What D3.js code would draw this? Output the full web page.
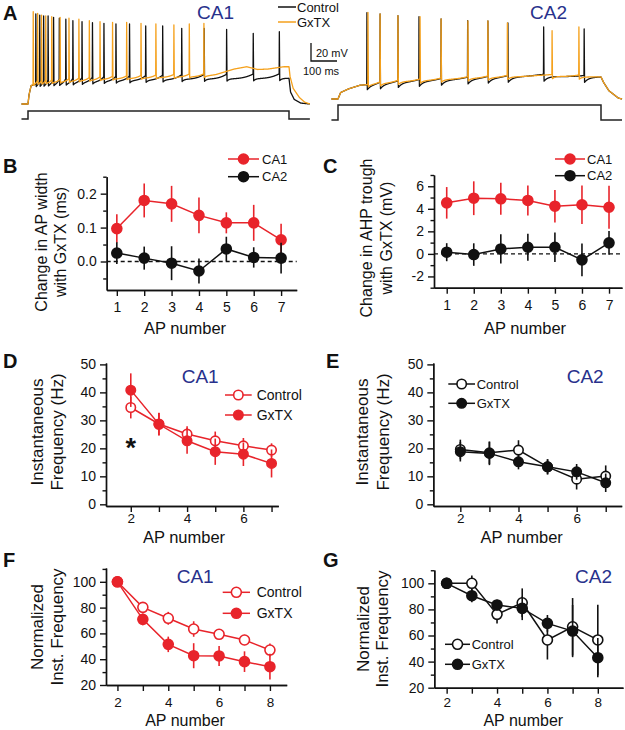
<!DOCTYPE html>
<html>
<head>
<meta charset="utf-8">
<script src="https://cdn.jsdelivr.net/npm/d3@7"></script>
<style>
  body { margin: 0; background: #fff; }
  svg { display: block; }
</style>
</head>
<body>
<div id="fig"></div>
<script>
// ---------- data ----------

// A: example traces (spike times in ms from step onset, spike peaks in mV)
var ca1CtlSpikes = [30, 45, 60, 77, 98, 120, 145, 172, 207, 247, 291, 337, 389, 451, 516, 589, 675, 761, 863, 963];
var ca1CtlPeaks  = [32.8, 31.7, 30.7, 30.7, 29.2, 28.2, 27.1, 25.5, 24.5, 23.4, 22.7, 22, 22, 19.8, 19.8, 17.3, 17.3, 16.2, 11.8, 13.6];
var ca1GxSpikes  = [20, 37, 52, 68, 91, 123, 157, 195, 235, 276, 324, 378, 433, 490, 559, 618, 674];
var ca1GxPeaks   = [35.3, 33.6, 31.7, 30.7, 29.9, 29.2, 28.2, 27.1, 25.5, 24.5, 23.8, 23.8, 22.7, 22, 20.9, 22, 22.7];
var ca2CtlSpikes = [110, 160, 228, 308, 392, 493, 570, 646, 782, 936];
var ca2CtlPeaks  = [28.8, 27.4, 25.5, 24.5, 22, 20.1, 19.8, 17.6, 13.3, 11.1];
var ca2GxSpikes  = [114, 160, 228, 312, 392, 494, 570, 644, 814, 916];
var ca2GxPeaks   = [29, 27.4, 25.5, 24.5, 22, 20, 19.8, 17.6, 9.2, 13.3];

// subthreshold level between spikes (time ms, mV)
var ca1CtlBaseT = [-25, 0, 4, 12, 30, 300, 600, 800, 1000, 1006, 1020, 1045, 1080];
var ca1CtlBaseV = [-65, -65, -55, -45, -43.5, -40, -38, -37.5, -37, -52, -60, -64, -65];
var ca1GxBaseT  = [-25, 0, 4, 12, 30, 300, 600, 674, 720, 790, 838, 880, 920, 980, 1000, 1004, 1016, 1040, 1060, 1080];
var ca1GxBaseV  = [-65, -65, -55, -45, -42.5, -38, -35.5, -35, -33, -27, -24.5, -27.5, -27, -24.5, -24.5, -35, -48, -58, -63, -65];
var ca2CtlBaseT = [-25, 0, 10, 40, 84, 255, 508, 760, 940, 1000, 1010, 1030, 1066, 1080];
var ca2CtlBaseV = [-65, -65, -58, -54, -50, -46.5, -43, -40, -41.5, -41, -47, -56, -64, -65];
var ca2GxBaseT  = [-25, 0, 10, 40, 84, 255, 508, 760, 940, 1000, 1010, 1030, 1066, 1080];
var ca2GxBaseV  = [-65, -65, -58, -54, -50, -46, -42.5, -40, -41, -41, -47, -56, -64, -65];

// current step (off / on)
var stepT  = [-25, 0, 0, 1000, 1000, 1080];
var stepOn = [0, 0, 1, 1, 0, 0];

// B: change in AP width (ms)
var apNum = [1, 2, 3, 4, 5, 6, 7];
var widthCA1    = [0.097, 0.180, 0.170, 0.136, 0.114, 0.114, 0.064];
var widthCA1Err = [0.042, 0.050, 0.053, 0.053, 0.031, 0.053, 0.047];
var widthCA2    = [0.025, 0.010, -0.005, -0.028, 0.037, 0.012, 0.010];
var widthCA2Err = [0.032, 0.034, 0.050, 0.037, 0.036, 0.030, 0.045];

// C: change in AHP trough (mV)
var ahpCA1    = [4.53, 4.94, 4.89, 4.74, 4.23, 4.36, 4.14];
var ahpCA1Err = [1.4, 1.5, 1.42, 1.33, 1.45, 1.7, 1.9];
var ahpCA2    = [0.15, -0.06, 0.44, 0.59, 0.59, -0.53, 0.98];
var ahpCA2Err = [0.8, 1.0, 1.3, 1.2, 1.3, 1.45, 1.05];

// D, E: instantaneous frequency (Hz)
var freqAP = [2, 3, 4, 5, 6, 7];
var freqCA1Ctl    = [34.6, 28.7, 25.1, 22.7, 20.9, 19.4];
var freqCA1CtlErr = [3.9, 4.0, 2.8, 3.3, 2.8, 2.4];
var freqCA1Gx     = [40.8, 28.6, 22.7, 18.8, 17.9, 14.6];
var freqCA1GxErr  = [6.0, 4.0, 4.6, 4.7, 4.2, 5.0];
var freqCA2Ctl    = [19.6, 18.4, 19.4, 13.4, 9.0, 10.1];
var freqCA2CtlErr = [3.5, 4.0, 3.5, 2.7, 3.7, 3.8];
var freqCA2Gx     = [18.8, 18.2, 15.2, 13.4, 11.6, 7.7];
var freqCA2GxErr  = [3.5, 4.2, 2.7, 2.7, 2.8, 3.3];

// F, G: normalized instantaneous frequency (%)
var normAP = [2, 3, 4, 5, 6, 7, 8];
var normCA1Ctl    = [100, 80.2, 71.7, 63.4, 59.3, 54.9, 47.1];
var normCA1CtlErr = [0, 3, 5, 6, 3, 4, 5];
var normCA1Gx     = [100, 70.9, 51.5, 42.7, 42.5, 38.1, 34.2];
var normCA1GxErr  = [0, 4.5, 6, 9.7, 7.7, 8, 10];
var normCA2Ctl    = [100, 100, 76.2, 85.1, 56.6, 66.7, 56.6];
var normCA2CtlErr = [0, 6, 7, 11, 15, 22, 27];
var normCA2Gx     = [100, 90.5, 83.4, 80.8, 69.3, 63.4, 43];
var normCA2GxErr  = [0, 5, 4, 9, 6.4, 20, 15];

// tick values
var bTicks = [0, 0.1, 0.2], bMinor = [-0.05, 0.05, 0.15, 0.25];
var cTicks = [-2, 0, 2, 4, 6], cMinor = [-3, -1, 1, 3, 5, 7];
var freqTicks = [0, 10, 20, 30, 40, 50], freqMinor = [5, 15, 25, 35, 45];
var normTicks = [20, 40, 60, 80, 100], normMinor = [30, 50, 70, 90, 110];

// ---------- drawing ----------
var W = 625, H = 730;
var FONT = "'Liberation Sans', Arial, Helvetica, sans-serif";
var RED = "#e8242b", ORANGE = "#f5a11c", NAVY = "#28318c", INK = "#111";

var svg = d3.select("#fig").append("svg").attr("width", W).attr("height", H);
svg.append("rect").attr("width", W).attr("height", H).attr("fill", "#fff");

function txt(x, y, s, size, opts) {
  opts = opts || {};
  return svg.append("text")
    .attr("x", x).attr("y", y)
    .attr("font-family", FONT)
    .attr("font-size", size)
    .attr("font-weight", opts.bold ? "bold" : "normal")
    .attr("text-anchor", opts.anchor || "start")
    .attr("fill", opts.color || INK)
    .text(s);
}

// --- panel A traces ---
function buildTrace(spikes, peaks, baseT, baseV, ahp, tau, ramp) {
  var base = d3.scaleLinear().domain(baseT).range(baseV);
  var pts = [];
  for (var k = 0; k <= 4420; k++) {
    var t = -25 + k * 0.25;
    var i = d3.bisectRight(spikes, t) - 1;
    var v = base(t);
    if (i >= 0) {
      var dt = t - spikes[i];
      v -= ahp * Math.exp(-dt / tau);
      if (i + 1 < spikes.length) v += ramp * Math.pow(dt / (spikes[i + 1] - spikes[i]), 3);
      if (dt < 1.5) v = peaks[i] + (v - peaks[i]) * dt / 1.5;
    }
    var j = i + 1;
    if (j < spikes.length && spikes[j] - t < 0.75) v += (peaks[j] - v) * (1 - (spikes[j] - t) / 0.75);
    pts.push([t, v]);
  }
  return pts;
}

function drawTrace(pts, tx, vy, color) {
  svg.append("path")
    .attr("d", d3.line().x(d => tx(d[0])).y(d => vy(d[1]))(pts))
    .attr("fill", "none").attr("stroke", color)
    .attr("stroke-width", 1.3).attr("stroke-linejoin", "round");
}

function drawStep(tx, sy) {
  var pts = stepT.map((t, i) => [t, stepOn[i]]);
  svg.append("path")
    .attr("d", d3.line().x(d => tx(d[0])).y(d => sy(d[1]))(pts))
    .attr("fill", "none").attr("stroke", "#222").attr("stroke-width", 1.5);
}

var tA1 = d3.scaleLinear().domain([0, 1000]).range([28, 289]);
var vA1 = d3.scaleLinear().domain([-65, 35]).range([104, 12]);
var sA1 = d3.scaleLinear().domain([0, 1]).range([119, 111]);
var tA2 = d3.scaleLinear().domain([0, 1000]).range([338, 601]);
var vA2 = d3.scaleLinear().domain([-65, 35]).range([99, 7]);
var sA2 = d3.scaleLinear().domain([0, 1]).range([120, 105]);

drawTrace(buildTrace(ca1CtlSpikes, ca1CtlPeaks, ca1CtlBaseT, ca1CtlBaseV, 3, 8, 5), tA1, vA1, INK);
drawTrace(buildTrace(ca1GxSpikes, ca1GxPeaks, ca1GxBaseT, ca1GxBaseV, 1.5, 6, 3), tA1, vA1, ORANGE);
drawStep(tA1, sA1);
drawTrace(buildTrace(ca2CtlSpikes, ca2CtlPeaks, ca2CtlBaseT, ca2CtlBaseV, 6, 15, 2), tA2, vA2, INK);
drawTrace(buildTrace(ca2GxSpikes, ca2GxPeaks, ca2GxBaseT, ca2GxBaseV, 3, 10, 2), tA2, vA2, ORANGE);
drawStep(tA2, sA2);

txt(3, 20, "A", 20, {bold: true});
txt(197, 19, "CA1", 19, {color: NAVY});
txt(530, 19, "CA2", 19, {color: NAVY});

// legend A
svg.append("line").attr("x1", 278).attr("x2", 296).attr("y1", 7).attr("y2", 7).attr("stroke", INK).attr("stroke-width", 1.5);
svg.append("line").attr("x1", 278).attr("x2", 296).attr("y1", 22).attr("y2", 22).attr("stroke", ORANGE).attr("stroke-width", 1.5);
txt(297, 11.5, "Control", 13);
txt(297, 26.5, "GxTX", 13);

// scale bar
svg.append("path").attr("d", "M311,43V61H337").attr("fill", "none").attr("stroke", INK).attr("stroke-width", 1.3);
txt(316, 57, "20 mV", 11);
txt(303, 75, "100 ms", 11);

// --- generic XY panel ---
function styleAxis(sel, size) {
  sel.selectAll("path, line").attr("stroke", INK).attr("stroke-width", 1.4);
  sel.attr("font-family", FONT).attr("font-size", size);
  sel.selectAll("text").attr("fill", INK);
}

function makePanel(p) {
  var x = d3.scaleLinear().domain(p.xDom).range(p.xR);
  var y = d3.scaleLinear().domain(p.yDom).range(p.yR);
  var g = svg.append("g");

  g.append("g").attr("transform", "translate(" + p.xR[0] + ",0)")
    .call(d3.axisLeft(y).tickValues(p.yMinor).tickSize(3.5).tickFormat("").tickSizeOuter(0))
    .call(styleAxis, 14);
  g.append("g").attr("transform", "translate(" + p.xR[0] + ",0)")
    .call(d3.axisLeft(y).tickValues(p.yMajor).tickSize(6).tickPadding(4).tickFormat(p.yFmt).tickSizeOuter(0))
    .call(styleAxis, 14);

  g.append("g").attr("transform", "translate(0," + p.yR[0] + ")")
    .call(d3.axisBottom(x).tickValues(p.xMinor).tickSize(6).tickFormat("").tickSizeOuter(0))
    .call(styleAxis, 14);
  g.append("g").attr("transform", "translate(0," + p.yR[0] + ")")
    .call(d3.axisBottom(x).tickValues(p.xMajor).tickSize(6).tickPadding(p.xPad).tickFormat(d3.format("d")).tickSizeOuter(0))
    .call(styleAxis, p.xTickFont || 14);

  // axis titles
  txt(p.xLabel[0], p.xLabel[1], "AP number", p.xFont || 17, {anchor: "middle"});
  p.yLines.forEach(function (ln) {
    svg.append("text")
      .attr("transform", "translate(" + ln[0] + "," + p.yMid + ") rotate(-90)")
      .attr("text-anchor", "middle").attr("dy", "0.35em")
      .attr("font-family", FONT).attr("font-size", p.yFont || 17).attr("fill", INK)
      .text(ln[1]);
  });
  return {x: x, y: y, g: g};
}

function series(pn, xs, ys, es, color, open, r) {
  r = r || 5;
  pn.g.append("g").selectAll("line").data(xs).join("line")
    .attr("x1", d => pn.x(d)).attr("x2", d => pn.x(d))
    .attr("y1", (d, i) => pn.y(ys[i] - es[i])).attr("y2", (d, i) => pn.y(ys[i] + es[i]))
    .attr("stroke", color).attr("stroke-width", 1.6);
  pn.g.append("path")
    .attr("d", d3.line().x(d => pn.x(d[0])).y(d => pn.y(d[1]))(xs.map((d, i) => [d, ys[i]])))
    .attr("fill", "none").attr("stroke", color).attr("stroke-width", 1.5);
  pn.g.append("g").selectAll("circle").data(xs).join("circle")
    .attr("cx", d => pn.x(d)).attr("cy", (d, i) => pn.y(ys[i])).attr("r", r)
    .attr("fill", open ? "#fff" : color).attr("stroke", color).attr("stroke-width", 1.6);
}

function legendRow(x1, x2, y, label, tx, color, open, size, r) {
  svg.append("line").attr("x1", x1).attr("x2", x2).attr("y1", y).attr("y2", y)
    .attr("stroke", color).attr("stroke-width", 1.5);
  svg.append("circle").attr("cx", (x1 + x2) / 2).attr("cy", y).attr("r", r || 5)
    .attr("fill", open ? "#fff" : color).attr("stroke", color).attr("stroke-width", 1.6);
  txt(tx, y + 4.6, label, size || 13);
}

function zeroLine(pn) {
  pn.g.append("line")
    .attr("x1", pn.x.range()[0]).attr("x2", pn.x.range()[1])
    .attr("y1", pn.y(0)).attr("y2", pn.y(0))
    .attr("stroke", INK).attr("stroke-width", 1.3).attr("stroke-dasharray", "4,3");
}

// --- B ---
var pB = makePanel({
  xR: [106.7, 296.7], yR: [290, 176.7], xDom: [0.63, 7.57], yDom: [-0.084, 0.25],
  yMajor: bTicks, yMinor: bMinor, yFmt: d3.format(".1f"),
  xMajor: apNum, xMinor: [], xPad: 6,
  xLabel: [185, 334], xFont: 16.5, yMid: 242, yFont: 16,
  yLines: [[41.7, "Change in AP width"], [60, "with GxTX (ms)"]]
});
zeroLine(pB);
series(pB, apNum, widthCA1, widthCA1Err, RED, false);
series(pB, apNum, widthCA2, widthCA2Err, INK, false);
txt(3, 173, "B", 20, {bold: true});
legendRow(228, 259, 159, "CA1", 262, RED, false);
legendRow(228, 259, 176.7, "CA2", 262, INK, false);

// --- C ---
var pC = makePanel({
  xR: [434, 622], yR: [287.7, 175], xDom: [0.53, 7.48], yDom: [-3, 7],
  yMajor: cTicks, yMinor: cMinor, yFmt: d => String(d),
  xMajor: apNum, xMinor: [], xPad: 6,
  xLabel: [525, 334], xFont: 16.5, yMid: 238, yFont: 16,
  yLines: [[366.7, "Change in AHP trough"], [386.7, "with GxTX (mV)"]]
});
zeroLine(pC);
series(pC, apNum, ahpCA1, ahpCA1Err, RED, false);
series(pC, apNum, ahpCA2, ahpCA2Err, INK, false);
txt(323, 173, "C", 20, {bold: true});
legendRow(555, 585, 159, "CA1", 587, RED, false);
legendRow(555, 585, 175.7, "CA2", 587, INK, false);

// --- D ---
var pD = makePanel({
  xR: [106, 278.3], yR: [506, 363], xDom: [1.12, 7.24], yDom: [-0.6, 50.5],
  yMajor: freqTicks, yMinor: freqMinor, yFmt: d3.format("d"),
  xMajor: [2, 4, 6], xMinor: [3, 5, 7], xPad: 1, xTickFont: 13.5,
  xLabel: [184, 542.5], xFont: 16.5, yMid: 432,
  yLines: [[36.7, "Instantaneous"], [56.7, "Frequency (Hz)"]]
});
series(pD, freqAP, freqCA1Ctl, freqCA1CtlErr, RED, true, 4.7);
series(pD, freqAP, freqCA1Gx, freqCA1GxErr, RED, false, 4.7);
txt(3, 368, "D", 20, {bold: true});
txt(181.7, 383, "CA1", 19, {color: NAVY});
legendRow(225, 251.7, 395, "Control", 256.7, RED, true, 14, 4.7);
legendRow(225, 251.7, 415, "GxTX", 256.7, RED, false, 14, 4.7);
txt(130.7, 457, "*", 27, {anchor: "middle", bold: true});

// --- E ---
var pE = makePanel({
  xR: [433.3, 621.7], yR: [506, 363], xDom: [1.07, 7.55], yDom: [-0.6, 50.5],
  yMajor: freqTicks, yMinor: freqMinor, yFmt: d3.format("d"),
  xMajor: [2, 4, 6], xMinor: [3, 5, 7], xPad: 1, xTickFont: 13.5,
  xLabel: [521.7, 542.5], xFont: 16.5, yMid: 432,
  yLines: [[362, "Instantaneous"], [383, "Frequency (Hz)"]]
});
series(pE, freqAP, freqCA2Ctl, freqCA2CtlErr, INK, true, 4.7);
series(pE, freqAP, freqCA2Gx, freqCA2GxErr, INK, false, 4.7);
txt(326, 368, "E", 20, {bold: true});
txt(566.7, 383, "CA2", 19, {color: NAVY});
legendRow(448.3, 475, 384, "Control", 476.7, INK, true, 13, 4.7);
legendRow(448.3, 475, 403.3, "GxTX", 476.7, INK, false, 13, 4.7);

// --- F ---
var pF = makePanel({
  xR: [106, 286.7], yR: [685, 568], xDom: [1.55, 8.66], yDom: [20, 110.7],
  yMajor: normTicks, yMinor: normMinor, yFmt: d3.format("d"),
  xMajor: [2, 4, 6, 8], xMinor: [3, 5, 7], xPad: 6, xTickFont: 13.5,
  xLabel: [185, 726], xFont: 16, yMid: 627,
  yLines: [[36.7, "Normalized"], [56.7, "Inst. Frequency"]]
});
series(pF, normAP, normCA1Ctl, normCA1CtlErr, RED, true);
series(pF, normAP, normCA1Gx, normCA1GxErr, RED, false);
txt(3, 567, "F", 20, {bold: true});
txt(176.7, 583, "CA1", 19, {color: NAVY});
legendRow(222.7, 250, 592.3, "Control", 256.7, RED, true, 14);
legendRow(222.7, 250, 613.3, "GxTX", 256.7, RED, false, 14);

// --- G ---
var pG = makePanel({
  xR: [434.3, 623], yR: [687.7, 570], xDom: [1.51, 9], yDom: [20, 110.2],
  yMajor: normTicks, yMinor: normMinor, yFmt: d3.format("d"),
  xMajor: [2, 4, 6, 8], xMinor: [3, 5, 7], xPad: 3.5, xTickFont: 13.5,
  xLabel: [523.3, 726], xFont: 16, yMid: 629,
  yLines: [[363.3, "Normalized"], [381.7, "Inst. Frequency"]]
});
series(pG, normAP, normCA2Ctl, normCA2CtlErr, INK, true);
series(pG, normAP, normCA2Gx, normCA2GxErr, INK, false);
txt(323, 567, "G", 20, {bold: true});
txt(575, 583, "CA2", 19, {color: NAVY});
legendRow(445, 470, 644.3, "Control", 471.7, INK, true, 13);
legendRow(445, 470, 664.3, "GxTX", 471.7, INK, false, 13);
</script>
</body>
</html>
